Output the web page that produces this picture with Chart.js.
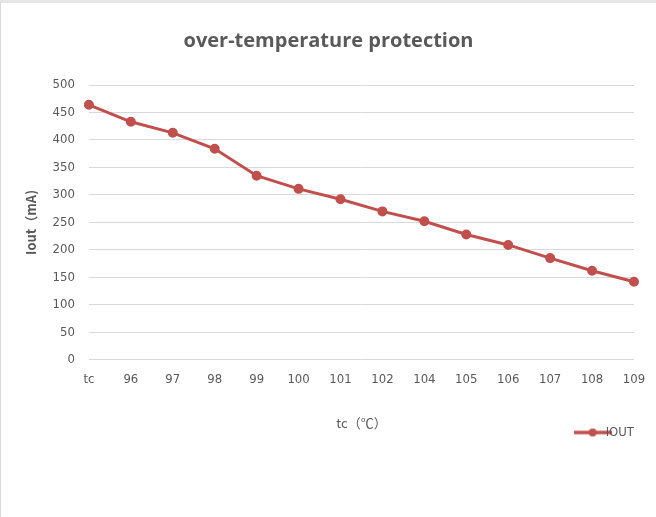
<!DOCTYPE html>
<html lang="en">
<head>
    <meta charset="UTF-8">
    <title>over-temperature protection</title>
    <script src="https://cdn.jsdelivr.net/npm/chart.js"></script>
    <style>
        html, body { margin: 0; padding: 0; background: #fff; }
        .chart-container { position: relative; width: 656px; height: 517px; border-left: 1px solid #d9d9d9; box-sizing: border-box; border-top: 3px solid #e6e6e6; }
    </style>
</head>
<body>
<div class="chart-container">
    <canvas id="otpChart"></canvas>
</div>
<script>
    // temperature categories (first one is labelled "tc")
    const tempLabels = ["tc", "96", "97", "98", "99", "100", "101", "102", "104", "105", "106", "107", "108", "109"];
    // output current in mA
    const ioutValues = [464, 433, 413, 384, 335, 311, 292, 270, 252, 228, 209, 185, 162, 142];

    const lineColor = "#c0504d";
    const textGray = "#595959";
    const tickFont = { family: "'DejaVu Sans Condensed', 'Liberation Sans'", size: 13 };

    // little line-with-dot marker for the legend
    const legendMark = document.createElement("canvas");
    legendMark.width = 38;
    legendMark.height = 10;
    const lm = legendMark.getContext("2d");
    lm.strokeStyle = lineColor;
    lm.lineWidth = 3.5;
    lm.beginPath();
    lm.moveTo(0, 5);
    lm.lineTo(38, 5);
    lm.stroke();
    lm.fillStyle = lineColor;
    lm.beginPath();
    lm.arc(19, 5, 4, 0, Math.PI * 2);
    lm.fill();

    const ctx = document.getElementById("otpChart").getContext("2d");
    new Chart(ctx, {
        type: "line",
        data: {
            labels: tempLabels,
            datasets: [{
                label: "IOUT",
                data: ioutValues,
                borderColor: lineColor,
                backgroundColor: lineColor,
                borderWidth: 3,
                pointRadius: 3.5,
                pointStyle: "circle",
                tension: 0
            }]
        },
        options: {
            responsive: true,
            maintainAspectRatio: false,
            animation: false,
            layout: { padding: { left: 22, right: 22, top: 14, bottom: 68 } },
            scales: {
                x: {
                    offset: false,
                    grid: { display: false },
                    border: { display: false },
                    ticks: {
                        color: textGray,
                        font: tickFont,
                        padding: 4,
                        maxRotation: 0,
                        autoSkip: false
                    },
                    title: {
                        display: true,
                        text: "tc（℃）",
                        color: textGray,
                        font: { family: "'Noto Sans CJK SC'", size: 13 },
                        padding: { top: 24, bottom: -5 }
                    }
                },
                y: {
                    min: 0,
                    max: 500,
                    ticks: {
                        stepSize: 50,
                        color: textGray,
                        font: tickFont,
                        padding: 14
                    },
                    grid: { color: "#d9d9d9", lineWidth: 1, drawTicks: false },
                    border: { display: false },
                    title: {
                        display: true,
                        text: "Iout（mA)",
                        color: textGray,
                        font: { family: "'Noto Sans CJK SC'", size: 13, weight: "bold" },
                        padding: { top: 0, bottom: 0 }
                    }
                }
            },
            plugins: {
                title: {
                    display: true,
                    text: "over-temperature protection",
                    color: textGray,
                    font: { family: "'Open Sans'", size: 20, weight: "bold" },
                    padding: { top: 12, bottom: 32 }
                },
                legend: {
                    position: "bottom",
                    align: "end",
                    labels: {
                        usePointStyle: true,
                        color: textGray,
                        font: tickFont,
                        padding: 0,
                        generateLabels: function(chart) {
                            return chart.data.datasets.map(function(ds, i) {
                                return {
                                    text: ds.label,
                                    pointStyle: legendMark,
                                    fontColor: textGray,
                                    datasetIndex: i,
                                    hidden: false
                                };
                            });
                        }
                    }
                },
                tooltip: { enabled: false }
            }
        }
    });
</script>
</body>
</html>
